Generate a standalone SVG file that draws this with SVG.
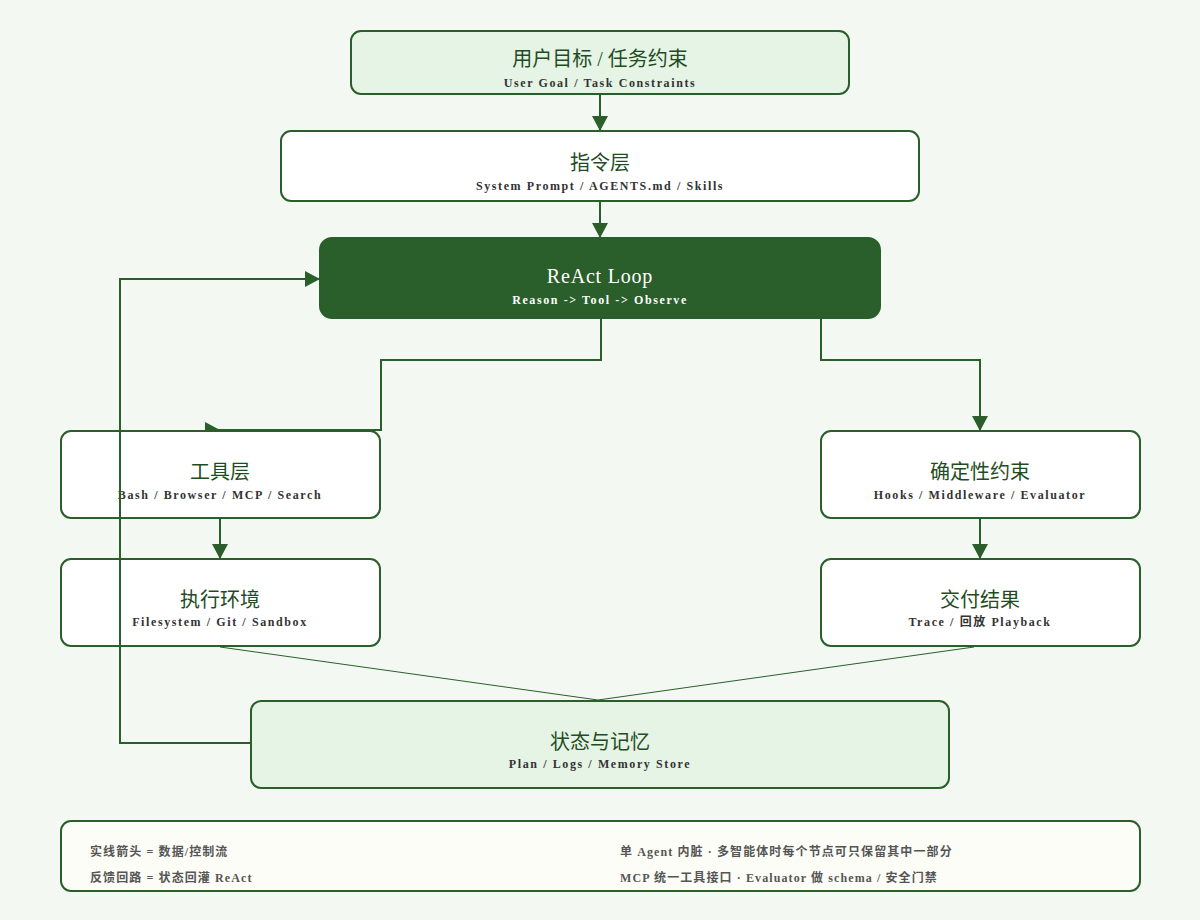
<svg xmlns="http://www.w3.org/2000/svg" width="1200" height="920" viewBox="0 0 1200 920">
<defs>
<style>
.bg{fill:#f3f9f2}
.node{stroke:#2a5e2a;stroke-width:2}
.light{fill:#e6f4e6}
.white{fill:#ffffff}
.dark{fill:#2a5e2a}
.legend{fill:#fdfdf8;stroke:#2a5e2a;stroke-width:2}
.title{font-family:"Liberation Serif","Noto Sans CJK SC",serif;font-size:20px;fill:#1f4d1f;text-anchor:middle}
.sub{font-family:"Liberation Serif","Noto Sans CJK SC",serif;font-size:12px;font-weight:bold;fill:#333333;text-anchor:middle;letter-spacing:1.6px}
.tw{fill:#ffffff}
.leg{font-family:"Liberation Serif","Noto Sans CJK SC",serif;font-size:12px;font-weight:bold;fill:#555555;letter-spacing:1.1px}
.conn{fill:none;stroke:#2a5e2a;stroke-width:2}
.thin{fill:none;stroke:#2a5e2a;stroke-width:1}
.head{fill:#2a5e2a}
</style>
<marker id="arr" viewBox="0 0 15 16" refX="15" refY="8" markerWidth="15" markerHeight="16" markerUnits="userSpaceOnUse" orient="auto">
<path d="M0,0 L15,8 L0,16 Z" fill="#2a5e2a"/>
</marker>
</defs>
<rect class="bg" x="0" y="0" width="1200" height="920"/>

<g id="node-goal">
<rect class="node light" x="351" y="31" width="498" height="63" rx="10"/>
<text class="title" x="600" y="66">用户目标 / 任务约束</text>
<text class="sub" x="600" y="87">User Goal / Task Constraints</text>
</g>

<g id="node-instruction">
<rect class="node white" x="281" y="131" width="638" height="70" rx="10"/>
<text class="title" x="600" y="170">指令层</text>
<text class="sub" x="600" y="190">System Prompt / AGENTS.md / Skills</text>
</g>

<g id="node-react">
<rect class="node dark" x="320" y="238" width="560" height="80" rx="12"/>
<text class="title tw" x="600" y="283" style="letter-spacing:0.8px">ReAct Loop</text>
<text class="sub tw" x="600" y="304">Reason -&gt; Tool -&gt; Observe</text>
</g>

<g id="node-tools">
<rect class="node white" x="61" y="431" width="319" height="87" rx="10"/>
<text class="title" x="220" y="479">工具层</text>
<text class="sub" x="220" y="499">Bash / Browser / MCP / Search</text>
</g>

<g id="node-env">
<rect class="node white" x="61" y="559" width="319" height="87" rx="10"/>
<text class="title" x="220" y="607">执行环境</text>
<text class="sub" x="220" y="626">Filesystem / Git / Sandbox</text>
</g>

<g id="node-hooks">
<rect class="node white" x="821" y="431" width="319" height="87" rx="10"/>
<text class="title" x="980" y="479">确定性约束</text>
<text class="sub" x="980" y="499">Hooks / Middleware / Evaluator</text>
</g>

<g id="node-delivery">
<rect class="node white" x="821" y="559" width="319" height="87" rx="10"/>
<text class="title" x="980" y="607">交付结果</text>
<text class="sub" x="980" y="626">Trace / 回放 Playback</text>
</g>

<g id="node-state">
<rect class="node light" x="251" y="701" width="698" height="87" rx="10"/>
<text class="title" x="600" y="749">状态与记忆</text>
<text class="sub" x="600" y="768">Plan / Logs / Memory Store</text>
</g>

<g id="legend">
<rect class="legend" x="61" y="821" width="1079" height="70" rx="10"/>
<text class="leg" x="90" y="856">实线箭头 = 数据/控制流</text>
<text class="leg" x="90" y="882">反馈回路 = 状态回灌 ReAct</text>
<text class="leg" x="620" y="856">单 Agent 内脏 · 多智能体时每个节点可只保留其中一部分</text>
<text class="leg" x="620" y="882">MCP 统一工具接口 · Evaluator 做 schema / 安全门禁</text>
</g>

<g id="connectors">
<line class="conn" x1="600" y1="94" x2="600" y2="131" marker-end="url(#arr)"/>
<line class="conn" x1="600" y1="201" x2="600" y2="238" marker-end="url(#arr)"/>
<polyline class="conn" points="601,318 601,360 381,360 381,430 215,430"/>
<polygon class="head" points="205,422 220,430 205,430"/>
<polyline class="conn" points="821,318 821,360 980,360 980,431" marker-end="url(#arr)"/>
<line class="conn" x1="220" y1="518" x2="220" y2="559" marker-end="url(#arr)"/>
<line class="conn" x1="980" y1="518" x2="980" y2="559" marker-end="url(#arr)"/>
<line class="thin" x1="220" y1="647" x2="598" y2="700"/>
<line class="thin" x1="974" y1="647" x2="598" y2="700"/>
<polyline class="conn" points="251,743 120,743 120,279 320,279" marker-end="url(#arr)"/>
</g>
</svg>
